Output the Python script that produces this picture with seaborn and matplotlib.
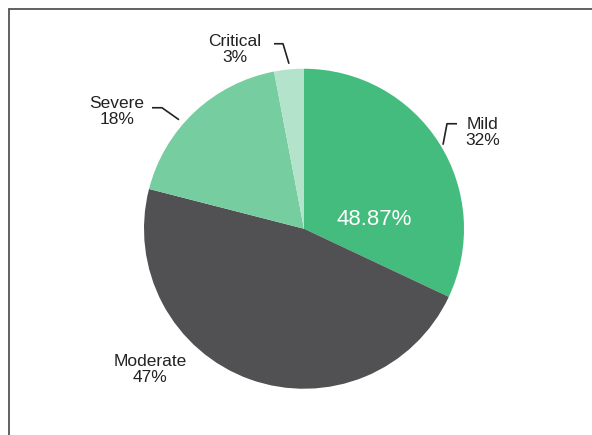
import matplotlib
matplotlib.use('Agg')
import matplotlib.pyplot as plt
from matplotlib.lines import Line2D
import seaborn as sns

sns.set_style('white')
plt.rcParams['font.family'] = ['Liberation Sans', 'DejaVu Sans']

# Data
categories = ['Mild', 'Moderate', 'Severe', 'Critical']
shares = [32, 47, 18, 3]
colors = ['#43bc7e', '#515153', '#76cda0', '#b3e3ca']
center_label = '48.87%'

# pixel helpers (pie centre at (304, 229), radius 160 px)
W, H = 592, 435
CX, CY, R = 304, 229, 160


def px(x, y):
    return (x - CX) / R, (CY - y) / R


fig = plt.figure(figsize=(W / 100, 4.355), dpi=100)
ax = fig.add_axes([0, 0, 1, 1])

ax.pie(shares, colors=colors, startangle=90, counterclock=False,
       wedgeprops={'linewidth': 0}, radius=1)
ax.set_xlim(-CX / R, (W - CX) / R)
ax.set_ylim(-(H - CY) / R, CY / R)
ax.set_aspect('equal', adjustable='box')
ax.axis('off')

# slice labels
label_pos = {
    'Mild': (483, 132),
    'Moderate': (150, 369),
    'Severe': (117, 111),
    'Critical': (235, 49),
}
for cat, val in zip(categories, shares):
    x, y = px(*label_pos[cat])
    ax.text(x, y, f'{cat}\n{val}%', ha='center', va='center',
            fontsize=12.5, color='#222222', linespacing=1.12)

# leader lines
leaders = {
    'Mild': [(443, 145), (447, 124), (457, 124)],
    'Severe': [(152, 108), (162, 108), (179, 120)],
    'Critical': [(274, 44), (283, 44), (289, 64)],
}
for pts in leaders.values():
    xs, ys = zip(*[px(*p) for p in pts])
    ax.plot(xs, ys, color='#222222', lw=1.2, solid_capstyle='butt')

x, y = px(374, 219)
ax.text(x, y, center_label, ha='center', va='center', fontsize=16, color='white')

# frame (left and top edges)
fx, fy = 9.3 / W, 1 - 9 / H
fig.add_artist(Line2D([fx, fx], [0, fy], transform=fig.transFigure, color='#555555', lw=1.3))
fig.add_artist(Line2D([fx, 1], [fy, fy], transform=fig.transFigure, color='#555555', lw=1.3))

fig.savefig('out.png', dpi=100)
